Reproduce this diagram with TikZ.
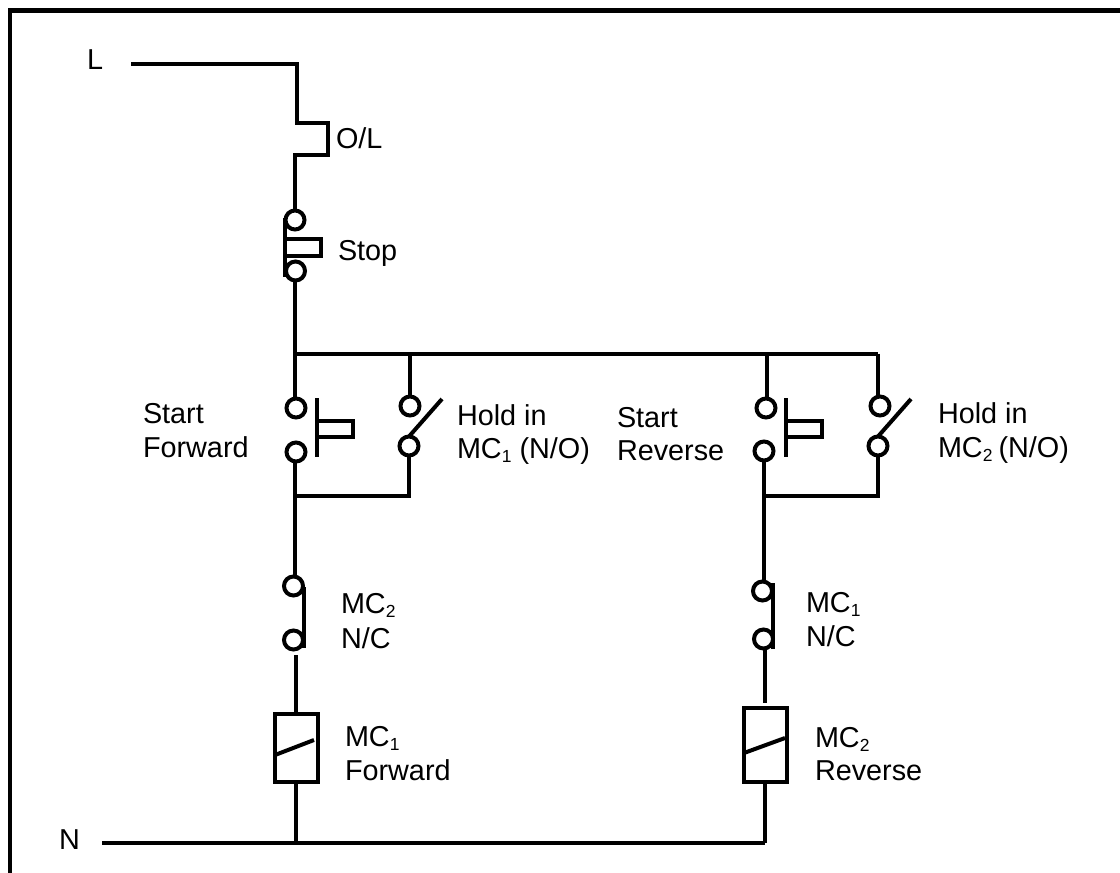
\documentclass[tikz,border=0pt]{standalone}
\usepackage{fontspec}
\setmainfont{Liberation Sans}
\newcommand{\subd}[1]{\raisebox{-4.5pt}{\fontsize{17.5}{17.5}\selectfont #1}}
\tikzset{
  wire/.style={line width=4pt,line cap=butt,line join=miter,black},
  term/.style={circle,draw=black,line width=4pt,fill=none,minimum size=19pt,inner sep=0pt,outer sep=0pt},
  lbl/.style={anchor=base west,inner sep=0pt,outer sep=0pt,font=\fontsize{28.8}{32}\selectfont,text=black},
  coilbox/.style={draw=black,line width=4pt,inner sep=0pt,outer sep=0pt,minimum width=43pt}
}
\begin{document}
\begin{tikzpicture}[x=1pt,y=-1pt]
\useasboundingbox (0,0) rectangle (1120,873);
% frame
\coordinate (fa) at (10,873); \coordinate (fb) at (10,10.5); \coordinate (fc) at (1120,10.5);
\draw[wire,line width=4.4pt] (fa) -- (fb) -- (fc);
% labels
\node[lbl] (tL) at (87,69) {L};
\node[lbl] (tN) at (59,849) {N};
\node[lbl] (tOL) at (336,148) {O/L};
\node[lbl] (tStop) at (338,260) {Stop};
\node[lbl] (tS1) at (143,423) {Start};
\node[lbl] (tF1) at (143,457) {Forward};
\node[lbl] (tH1) at (457,425) {Hold in};
\node[lbl] (tM1) at (457,458) {MC\subd{1} (N/O)};
\node[lbl] (tS2) at (617,427) {Start};
\node[lbl] (tF2) at (617,460) {Reverse};
\node[lbl] (tH2) at (938,423) {Hold in};
\node[lbl] (tM2) at (938,457) {MC\subd{2}\hspace{-2pt} (N/O)};
\node[lbl] (tA1) at (341,613) {MC\subd{2}};
\node[lbl] (tA2) at (341,648) {N/C};
\node[lbl] (tB1) at (345,746) {MC\subd{1}};
\node[lbl] (tB2) at (345,780) {Forward};
\node[lbl] (tC1) at (806,612) {MC\subd{1}};
\node[lbl] (tC2) at (806,646) {N/C};
\node[lbl] (tD1) at (815,747) {MC\subd{2}};
\node[lbl] (tD2) at (815,780) {Reverse};
% terminals
\node[term] (st1) at (295,220) {};
\node[term] (st2) at (295.5,271) {};
\node[term] (f1) at (296,408) {};
\node[term] (f2) at (296,452) {};
\node[term] (h1) at (410,406) {};
\node[term] (h2) at (409,446) {};
\node[term] (r1) at (766,408) {};
\node[term] (r2) at (764,451) {};
\node[term] (k1) at (880,406) {};
\node[term] (k2) at (878,446) {};
\node[term] (n1) at (293.5,586) {};
\node[term] (n2) at (293.5,640) {};
\node[term] (m1) at (762.5,591) {};
\node[term] (m2) at (763.5,639) {};
% coils
\node[coilbox,minimum height=68pt] (c1) at (296.5,748) {};
\node[coilbox,minimum height=74pt] (c2) at (765.5,745) {};
% junctions and ends
\coordinate (L0) at (131,64); \coordinate (L1) at (297,64); \coordinate (L2) at (297,123);
\coordinate (L3) at (328,123); \coordinate (L4) at (328,155); \coordinate (L5) at (295,155);
\coordinate (bL) at (295,353.5); \coordinate (bH) at (410,353.5); \coordinate (bR) at (767,353.5); \coordinate (bK) at (878,353.5);
\coordinate (jF) at (295,496); \coordinate (jFh) at (409,496);
\coordinate (jR) at (764,496); \coordinate (jRh) at (878,496);
\coordinate (N0) at (102,843); \coordinate (jN1) at (296,843); \coordinate (jN2) at (765,843);
\coordinate (g1) at (296,655); \coordinate (g2) at (765,649); \coordinate (g3) at (765,703);
% L to overload to stop
\draw[wire] (L0) -- (L1) -- (L2) -- (L3) -- (L4) -- (L5) -- (L5 |- st1.north);
\draw[wire] (L5 |- st2.south) -- (bL);
% stop button
\draw[wire] (285,218) -- (285,277);
\draw[wire] (285,239) -- (321,239) -- (321,256) -- (285,256);
% bus
\draw[wire] (bL) -- (bK);
\draw[wire] (bL) -- (bL |- f1.north);
\draw[wire] (bH) -- (bH |- h1.north);
\draw[wire] (bR) -- (bR |- r1.north);
\draw[wire] (bK) -- (bK |- k1.north);
% forward start button
\draw[wire] (317,398) -- (317,457);
\draw[wire] (317,421) -- (353,421) -- (353,437) -- (317,437);
% reverse start button
\draw[wire] (786,398) -- (786,457);
\draw[wire] (786,421) -- (822,421) -- (822,437) -- (786,437);
% hold-in blades
\draw[wire] (h2.north) -- (442,399);
\draw[wire] (k2.north) -- (911,399);
% return rungs
\draw[wire] (jF |- f2.south) -- (jF);
\draw[wire] (jFh |- h2.south) -- (jFh) -- (jF);
\draw[wire] (jR |- r2.south) -- (jR);
\draw[wire] (jRh |- k2.south) -- (jRh) -- (jR);
% to N/C contacts
\draw[wire] (jF) -- (jF |- n1.north);
\draw[wire] (jR) -- (jR |- m1.north);
\draw[wire] (304,587) -- (304,648);
\draw[wire] (773,583) -- (773,649);
% to coils
\draw[wire] (g1) -- (g1 |- c1.north);
\draw[wire] (g2) -- (g3);
\draw[wire] (c1.west |- 0,755) -- (314,740);
\draw[wire] (c2.west |- 0,753) -- (785,738);
% neutral
\draw[wire] (jN1 |- c1.south) -- (jN1);
\draw[wire] (jN2 |- c2.south) -- (jN2);
\draw[wire] (N0) -- (jN2);
\end{tikzpicture}
\end{document}
